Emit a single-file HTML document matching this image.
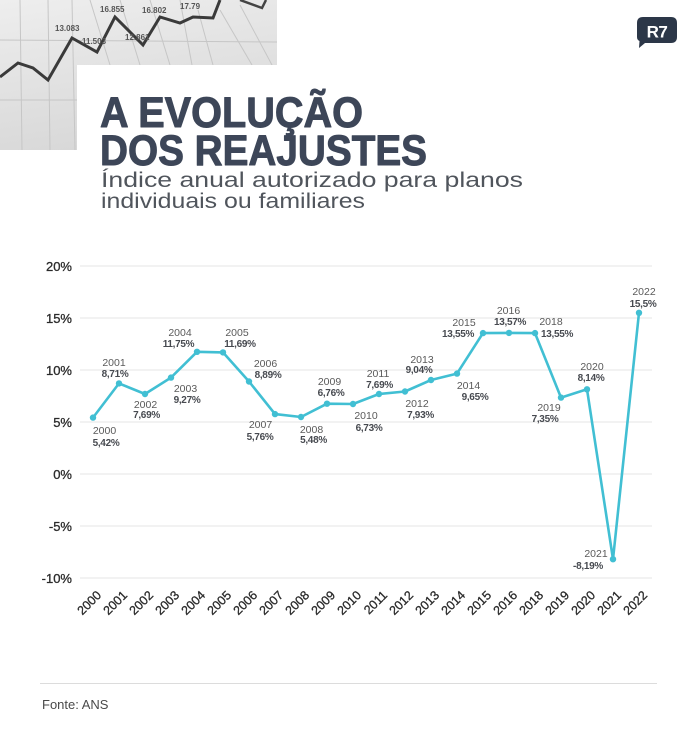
<!DOCTYPE html>
<html><head><meta charset="utf-8"><style>
html,body{margin:0;padding:0;background:#fff;}
svg{display:block;}
</style></head><body>
<svg width="696" height="737" viewBox="0 0 696 737" xmlns="http://www.w3.org/2000/svg" font-family="'Liberation Sans', sans-serif">
<defs>
<linearGradient id="pg" x1="0" y1="0" x2="0.3" y2="1">
<stop offset="0" stop-color="#eeeeee"/><stop offset="1" stop-color="#d8d8d8"/>
</linearGradient>
<clipPath id="pc"><path d="M0 0H277V65H77V150H0Z"/></clipPath>
</defs>
<rect width="696" height="737" fill="#fff"/>
<!-- photo -->
<g clip-path="url(#pc)">
<rect x="0" y="0" width="277" height="150" fill="url(#pg)"/>
<g stroke="#c6c6c6" stroke-width="1" fill="none">
<line x1="20" y1="0" x2="22" y2="150"/>
<line x1="48" y1="0" x2="50" y2="150"/>
<line x1="72" y1="0" x2="75" y2="150"/>
<line x1="90" y1="0" x2="110" y2="65"/>
<line x1="120" y1="0" x2="140" y2="65"/>
<line x1="150" y1="0" x2="170" y2="65"/>
<line x1="180" y1="0" x2="192" y2="65"/>
<line x1="198" y1="10" x2="213" y2="65"/>
<line x1="220" y1="10" x2="252" y2="65"/>
<line x1="240" y1="5" x2="272" y2="65"/>
<line x1="0" y1="40" x2="277" y2="42"/>
<line x1="0" y1="100" x2="77" y2="100"/>
</g>
<polyline points="0,77 18,63 33,68 48,80 72,38 97,52 115,17 143,45 160,17 180,23 193,17 213,18 220,0" fill="none" stroke="#3a3a3a" stroke-width="3"/>
<polyline points="240,0 262,8 266,0" fill="none" stroke="#444" stroke-width="2.5"/>
<g font-size="8" font-weight="bold" fill="#555">
<text x="100" y="12">16.855</text>
<text x="142" y="13">16.802</text>
<text x="180" y="9">17.79</text>
<text x="55" y="31">13.083</text>
<text x="125" y="40">12.861</text>
<text x="82" y="44">11.503</text>
</g>
</g>
<!-- logo -->
<path d="M643 17H671Q677 17 677 23V37Q677 43 671 43H645L639 48L639.5 41Q637 40 637 37V23Q637 17 643 17Z" fill="#2c3748"/>
<text x="657" y="37.5" font-size="17" font-weight="bold" fill="#fff" text-anchor="middle" letter-spacing="-0.5">R7</text>
<!-- title -->
<g font-size="43" font-weight="bold" fill="#3d4658" stroke="#3d4658" stroke-width="1" stroke-linejoin="round">
<text x="100" y="127" textLength="263" lengthAdjust="spacingAndGlyphs">A EVOLUÇÃO</text>
<text x="100" y="165" textLength="327" lengthAdjust="spacingAndGlyphs">DOS REAJUSTES</text>
</g>
<text x="101" y="187" font-size="21" fill="#50555c" textLength="422" lengthAdjust="spacingAndGlyphs">Índice anual autorizado para planos</text>
<text x="101" y="208" font-size="21" fill="#50555c" textLength="264" lengthAdjust="spacingAndGlyphs">individuais ou familiares</text>
<!-- grid -->
<g stroke="#e6e6e6" stroke-width="1">
<line x1="80" y1="266" x2="652" y2="266"/>
<line x1="80" y1="318" x2="652" y2="318"/>
<line x1="80" y1="370" x2="652" y2="370"/>
<line x1="80" y1="422" x2="652" y2="422"/>
<line x1="80" y1="474" x2="652" y2="474"/>
<line x1="80" y1="526" x2="652" y2="526"/>
<line x1="80" y1="578" x2="652" y2="578"/>
</g>
<g font-size="13" fill="#2a2a2a" text-anchor="end" stroke="#2a2a2a" stroke-width="0.3">
<text x="72" y="271">20%</text>
<text x="72" y="323">15%</text>
<text x="72" y="375">10%</text>
<text x="72" y="427">5%</text>
<text x="72" y="479">0%</text>
<text x="72" y="531">-5%</text>
<text x="72" y="583">-10%</text>
</g>
<!-- line -->
<polyline fill="none" stroke="#41bfd3" stroke-width="2.6" stroke-linejoin="round" points="93,417.6 119,383.4 145,394 171,377.6 197,351.8 223,352.4 249,381.5 275,414.1 301,417 327,403.7 353,404 379,394 405,391.5 431,380 457,373.6 483,333.1 509,332.9 535,333.1 561,397.6 587,389.3 613,559.2 639,312.8"/>
<g fill="#41bfd3">
<circle cx="93" cy="417.6" r="3.2"/><circle cx="119" cy="383.4" r="3.2"/><circle cx="145" cy="394" r="3.2"/><circle cx="171" cy="377.6" r="3.2"/><circle cx="197" cy="351.8" r="3.2"/><circle cx="223" cy="352.4" r="3.2"/><circle cx="249" cy="381.5" r="3.2"/><circle cx="275" cy="414.1" r="3.2"/><circle cx="301" cy="417" r="3.2"/><circle cx="327" cy="403.7" r="3.2"/><circle cx="353" cy="404" r="3.2"/><circle cx="379" cy="394" r="3.2"/><circle cx="405" cy="391.5" r="3.2"/><circle cx="431" cy="380" r="3.2"/><circle cx="457" cy="373.6" r="3.2"/><circle cx="483" cy="333.1" r="3.2"/><circle cx="509" cy="332.9" r="3.2"/><circle cx="535" cy="333.1" r="3.2"/><circle cx="561" cy="397.6" r="3.2"/><circle cx="587" cy="389.3" r="3.2"/><circle cx="613" cy="559.2" r="3.2"/><circle cx="639" cy="312.8" r="3.2"/>
</g>
<!-- data labels -->
<g font-size="10.5" fill="#5a5a5a" text-anchor="middle">
<text x="104.5" y="434">2000</text>
<text x="114" y="366">2001</text>
<text x="145.5" y="408">2002</text>
<text x="185.5" y="392">2003</text>
<text x="180" y="336">2004</text>
<text x="237" y="336">2005</text>
<text x="265.5" y="367">2006</text>
<text x="260.5" y="428">2007</text>
<text x="311.5" y="433">2008</text>
<text x="329.5" y="385">2009</text>
<text x="366" y="419">2010</text>
<text x="378" y="377">2011</text>
<text x="417" y="407">2012</text>
<text x="422" y="363">2013</text>
<text x="468.5" y="389">2014</text>
<text x="464" y="326">2015</text>
<text x="508.5" y="314">2016</text>
<text x="551" y="325">2018</text>
<text x="549" y="411">2019</text>
<text x="592" y="370">2020</text>
<text x="596" y="557">2021</text>
<text x="644" y="295">2022</text>
</g>
<g font-size="10" font-weight="bold" fill="#474a50" text-anchor="middle" letter-spacing="-0.3">
<text x="106" y="446">5,42%</text>
<text x="115" y="377">8,71%</text>
<text x="146.5" y="418">7,69%</text>
<text x="187" y="403">9,27%</text>
<text x="178.5" y="347">11,75%</text>
<text x="240" y="347">11,69%</text>
<text x="268" y="378">8,89%</text>
<text x="260" y="440">5,76%</text>
<text x="313.5" y="443">5,48%</text>
<text x="331" y="396">6,76%</text>
<text x="369" y="431">6,73%</text>
<text x="379.5" y="388">7,69%</text>
<text x="420.5" y="418">7,93%</text>
<text x="419" y="373">9,04%</text>
<text x="475" y="400">9,65%</text>
<text x="458" y="337">13,55%</text>
<text x="510" y="325">13,57%</text>
<text x="557" y="337">13,55%</text>
<text x="545" y="422">7,35%</text>
<text x="591" y="381">8,14%</text>
<text x="588" y="569">-8,19%</text>
<text x="643" y="307">15,5%</text>
</g>
<!-- x axis labels -->
<g font-size="12.5" fill="#2a2a2a" stroke="#2a2a2a" stroke-width="0.3" text-anchor="end">
<text transform="translate(102,596) rotate(-45)">2000</text>
<text transform="translate(128,596) rotate(-45)">2001</text>
<text transform="translate(154,596) rotate(-45)">2002</text>
<text transform="translate(180,596) rotate(-45)">2003</text>
<text transform="translate(206,596) rotate(-45)">2004</text>
<text transform="translate(232,596) rotate(-45)">2005</text>
<text transform="translate(258,596) rotate(-45)">2006</text>
<text transform="translate(284,596) rotate(-45)">2007</text>
<text transform="translate(310,596) rotate(-45)">2008</text>
<text transform="translate(336,596) rotate(-45)">2009</text>
<text transform="translate(362,596) rotate(-45)">2010</text>
<text transform="translate(388,596) rotate(-45)">2011</text>
<text transform="translate(414,596) rotate(-45)">2012</text>
<text transform="translate(440,596) rotate(-45)">2013</text>
<text transform="translate(466,596) rotate(-45)">2014</text>
<text transform="translate(492,596) rotate(-45)">2015</text>
<text transform="translate(518,596) rotate(-45)">2016</text>
<text transform="translate(544,596) rotate(-45)">2018</text>
<text transform="translate(570,596) rotate(-45)">2019</text>
<text transform="translate(596,596) rotate(-45)">2020</text>
<text transform="translate(622,596) rotate(-45)">2021</text>
<text transform="translate(648,596) rotate(-45)">2022</text>
</g>
<!-- footer -->
<line x1="40" y1="683.5" x2="657" y2="683.5" stroke="#dcdcdc" stroke-width="1"/>
<text x="42" y="709" font-size="13" fill="#4a4a4a">Fonte: ANS</text>
</svg>
</body></html>
